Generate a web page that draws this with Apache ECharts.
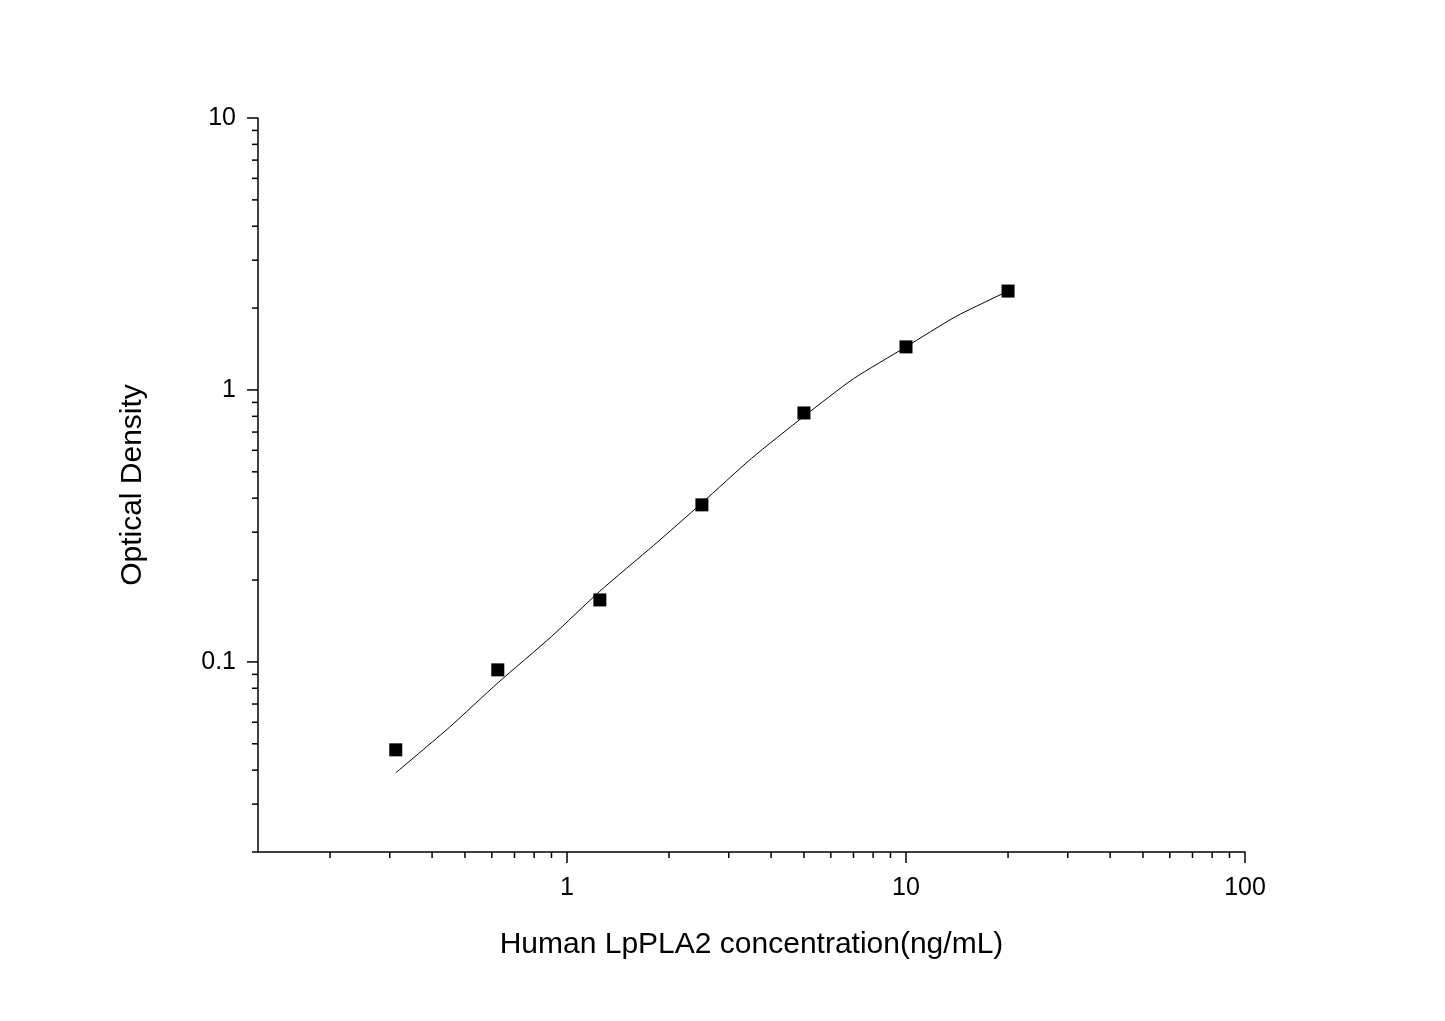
<!DOCTYPE html>
<html><head><meta charset="utf-8">
<script src="https://cdn.jsdelivr.net/npm/echarts@6/dist/echarts.min.js"></script>
<style>html,body{margin:0;padding:0;background:#fff}#c{width:1445px;height:1021px}</style>
</head><body><div id="c"></div>
<script>
var concentrations = [0.3125, 0.625, 1.25, 2.5, 5, 10, 20];
var densities = [0.0475, 0.0935, 0.169, 0.378, 0.823, 1.44, 2.31];
var curveX = [0.3125, 0.45, 0.625, 0.9, 1.25, 1.8, 2.5, 3.5, 5, 7, 10, 14, 20];
var curveY = [0.0391, 0.0575, 0.0837, 0.124, 0.182, 0.268, 0.384, 0.56, 0.80, 1.10, 1.44, 1.86, 2.31];
var xMajorTicks = [1, 10, 100];
var xMinorTicks = [0.2,0.3,0.4,0.5,0.6,0.7,0.8,0.9,2,3,4,5,6,7,8,9,20,30,40,50,60,70,80,90];
var yMajorTicks = [0.1, 1, 10];
var yMinorTicks = [0.02,0.03,0.04,0.05,0.06,0.07,0.08,0.09,0.2,0.3,0.4,0.5,0.6,0.7,0.8,0.9,2,3,4,5,6,7,8,9];
var X_MIN = 0.1226, X_MAX = 100, Y_MIN = 0.02, Y_MAX = 10;

function isDecade(v){var l=Math.log10(v);return Math.abs(l-Math.round(l))<1e-6;}
function fmt(v){var p=Math.round(Math.log10(v));return p<0?(Math.pow(10,p)).toFixed(-p):String(Math.pow(10,p));}

var tickData = [];
xMajorTicks.forEach(function(v){tickData.push([v,Y_MIN,'x',11]);});
xMinorTicks.forEach(function(v){tickData.push([v,Y_MIN,'x',6]);});
yMajorTicks.forEach(function(v){tickData.push([X_MIN,v,'y',11]);});
yMinorTicks.forEach(function(v){tickData.push([X_MIN,v,'y',6]);});

var chart = echarts.init(document.getElementById('c'));
var labelFont = {fontFamily:'Liberation Sans', fontSize:25, color:'#000'};
chart.setOption({
  animation:false,
  grid:{left:258,right:200,top:118,bottom:169},
  xAxis:{type:'log',min:X_MIN,max:X_MAX,logBase:10,
    name:'Human LpPLA2 concentration(ng/mL)',nameLocation:'middle',nameGap:78,
    nameTextStyle:{fontFamily:'Liberation Sans',fontSize:30,color:'#000'},
    axisLine:{lineStyle:{color:'#000',width:1.5}},axisTick:{show:false},splitLine:{show:false},
    axisLabel:Object.assign({margin:24,formatter:function(v){return isDecade(v)?fmt(v):'';}},labelFont)},
  yAxis:{type:'log',min:Y_MIN,max:Y_MAX,logBase:10,
    name:'Optical Density',nameLocation:'middle',nameGap:110,
    nameTextStyle:{fontFamily:'Liberation Sans',fontSize:30,color:'#000'},
    axisLine:{lineStyle:{color:'#000',width:1.5}},axisTick:{show:false},splitLine:{show:false},
    axisLabel:Object.assign({margin:22,formatter:function(v){return isDecade(v)?fmt(v):'';}},labelFont)},
  series:[
    {type:'custom',clip:false,silent:true,data:tickData,
     renderItem:function(params,api){
       var p=api.coord([api.value(0),api.value(1)]);var kind=tickData[params.dataIndex][2];var len=tickData[params.dataIndex][3];
       var shape=kind==='x'?{x1:p[0],y1:p[1],x2:p[0],y2:p[1]+len}:{x1:p[0],y1:p[1],x2:p[0]-len,y2:p[1]};
       return {type:'line',shape:shape,style:{stroke:'#000',lineWidth:1.5}};
     }},
    {type:'line',data:curveX.map(function(x,i){return [x,curveY[i]];}),smooth:0.2,symbol:'none',
     lineStyle:{color:'#000',width:1}},
    {type:'scatter',data:concentrations.map(function(x,i){return [x,densities[i]];}),symbol:'rect',symbolSize:13,
     itemStyle:{color:'#000',opacity:1}}
  ]
});
</script></body></html>
